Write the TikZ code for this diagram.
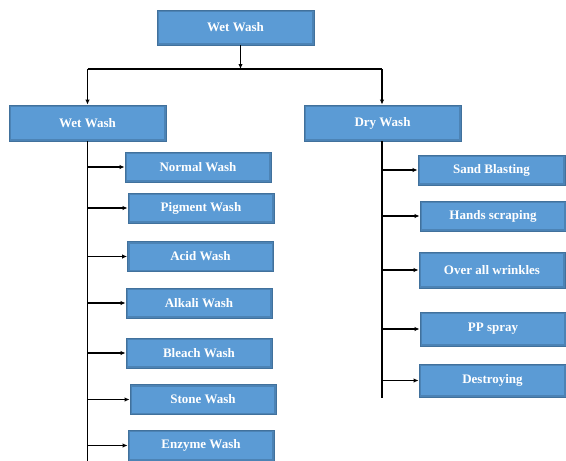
\documentclass[tikz,border=0pt]{standalone}
\usepackage{fontspec}
\setmainfont{Liberation Serif}
\usetikzlibrary{arrows.meta}

\definecolor{washblue}{HTML}{5B9BD5}
\definecolor{washedge}{HTML}{41719C}

\begin{document}
\begin{tikzpicture}[x=1pt,y=-1pt,
	washbox/.style={rectangle, fill=washblue, draw=washedge, line width=0.9pt,
		text=white, font=\fontsize{13}{15}\selectfont\bfseries,
		minimum width=146pt, minimum height=30pt, inner sep=0pt,
		path picture={\draw[washedge, line width=4pt, opacity=0.55]
			(path picture bounding box.south west) rectangle (path picture bounding box.north east);}},
	headbox/.style={washbox, minimum width=157pt, minimum height=36pt},
	link/.style={line width=1.6pt, -{Latex[length=5pt,width=4.5pt]}},
	spine/.style={line width=1.6pt}]
\useasboundingbox (0,0) rectangle (566,461);

% top level
\node[headbox, minimum height=35pt] (top) at (235.5,27.5) {Wet Wash};
\coordinate (busl) at (87.5,69);
\coordinate (busr) at (382,69);
\draw[spine] (busl) -- (busr);
\draw[link] ([xshift=5pt]top.south) -- ([xshift=5pt]top.south |- busl);

% second level
\node[headbox] (wet) at (87.5,123) {Wet Wash};
\node[headbox] (dry) at (382.5,123) {Dry Wash};
\draw[link] (busl) -- (wet.north);
\draw[link] (busr) -- (busr |- dry.north);

% wet wash types
\node[washbox] (normal) at (198,167) {Normal Wash};
\node[washbox] (pigment) at (201,208) {Pigment Wash};
\node[washbox] (acid) at (200.5,256.5) {Acid Wash};
\node[washbox] (alkali) at (199,303) {Alkali Wash};
\node[washbox] (bleach) at (199,353) {Bleach Wash};
\node[washbox] (stone) at (203,399.5) {Stone Wash};
\node[washbox, minimum height=31pt] (enzyme) at (201,445.5) {Enzyme Wash};
\coordinate (wetend) at (88,461);
\draw[spine] (wet.south) -- (wet.south |- wetend);
\foreach \n in {normal,pigment,acid,alkali,bleach,stone,enzyme}
	\draw[link] (wet.south |- \n.west) -- (\n.west);

% dry wash types
\node[washbox, minimum width=147pt] (sand) at (491.5,170) {Sand Blasting};
\node[washbox] (hands) at (493,216) {Hands scraping};
\node[washbox, minimum height=36pt] (wrinkle) at (492,270) {Over all wrinkles};
\node[washbox, minimum height=34pt] (spray) at (493,329) {PP spray};
\node[washbox, minimum width=147pt, minimum height=33pt] (destroy) at (492.5,380.5) {Destroying};
\coordinate (dryend) at (382,398);
\draw[spine] (dry.south -| dryend) -- (dryend);
\foreach \n in {sand,hands,wrinkle,spray,destroy}
	\draw[link] (dryend |- \n.west) -- (\n.west);
\end{tikzpicture}
\end{document}
